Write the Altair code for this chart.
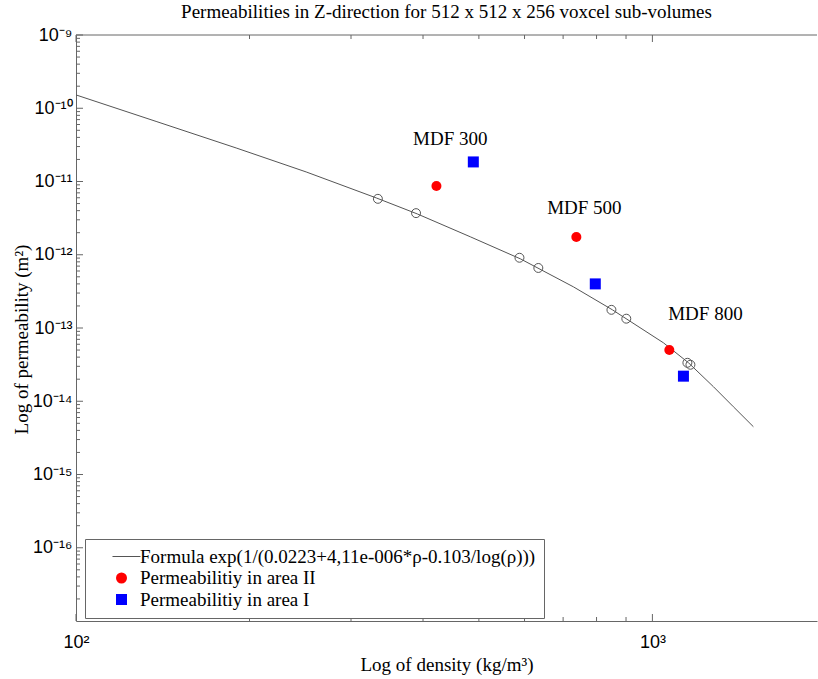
import altair as alt
import pandas as pd

# ---------------- data ----------------
curve_rho = [100, 137.7, 189.6, 250.8, 331.8, 390.9, 483.1, 590.2, 729.2, 852.4, 1045, 1155, 1276, 1382, 1497]
curve_k = [1.52e-10, 6.61e-11, 2.87e-11, 1.35e-11, 5.97e-12, 3.61e-12, 1.76e-12, 8.79e-13,
           3.65e-13, 1.77e-13, 6.28e-14, 3.35e-14, 1.58e-14, 8.41e-15, 4.49e-15]

sample_rho = [334, 389, 588, 634, 849, 901, 1150, 1164]
sample_k = [5.8e-12, 3.7e-12, 9.1e-13, 6.6e-13, 1.77e-13, 1.34e-13, 3.35e-14, 3.15e-14]

area2_rho = [422, 738, 1070]
area2_k = [8.7e-12, 1.75e-12, 5.0e-14]

area1_rho = [489, 796, 1132]
area1_k = [1.85e-11, 4.0e-13, 2.2e-14]

mdf_labels = ["MDF 300", "MDF 500", "MDF 800"]
mdf_rho = [446, 762, 1236]
mdf_k = [3.16e-11, 3.61e-12, 1.29e-13]

series_names = ["Formula exp(1/(0.0223+4,11e-006*\u03c1-0.103/log(\u03c1)))",
                "Permeabilitiy in area II",
                "Permeabilitiy in area I"]

x_major = [100, 1000]
x_major_labels = ["10\u00b2", "10\u00b3"]
x_minor = [200, 300, 400, 500, 600, 700, 800, 900]

y_major_exp = [-9, -10, -11, -12, -13, -14, -15, -16]
y_major_labels = ["10\u207b\u2079", "10\u207b\u00b9\u2070", "10\u207b\u00b9\u00b9", "10\u207b\u00b9\u00b2",
                  "10\u207b\u00b9\u00b3", "10\u207b\u00b9\u2074", "10\u207b\u00b9\u2075", "10\u207b\u00b9\u2076"]
y_major = [1e-9, 1e-10, 1e-11, 1e-12, 1e-13, 1e-14, 1e-15, 1e-16]
y_minor = [m * 10.0 ** e for e in range(-17, -9) for m in range(2, 10)]

# ---------------- layout ----------------
W, H = 741, 586
serif = "Liberation Serif"
sans = "Liberation Sans"
frame = "#666666"

xscale = alt.Scale(type="log", domain=[100, 1930], nice=False)
yscale = alt.Scale(type="log", domain=[1e-17, 1e-9], nice=False)


def expr_from(exps, labels):
    e = "''"
    for ex, lab in zip(reversed(exps), reversed(labels)):
        e = f"round(log(datum.value)/LN10) == {ex} ? '{lab}' : ({e})"
    return e


x_label_expr = expr_from([2, 3], x_major_labels)
y_label_expr = expr_from(y_major_exp, y_major_labels)

curve_df = pd.DataFrame({"rho": curve_rho, "k": curve_k})
sample_df = pd.DataFrame({"rho": sample_rho, "k": sample_k})
area2_df = pd.DataFrame({"rho": area2_rho, "k": area2_k, "series": series_names[1]})
area1_df = pd.DataFrame({"rho": area1_rho, "k": area1_k, "series": series_names[2]})
mdf_df = pd.DataFrame({"rho": mdf_rho, "k": mdf_k, "label": mdf_labels})

# main axes (labels + frame lines on bottom and left), shared by every layer
x_main = alt.Axis(orient="bottom", values=x_major, labelExpr=x_label_expr, ticks=False,
                  domain=True, title="Log of density (kg/m\u00b3)", labelPadding=12,
                  labelFlush=False, labelOverlap=False,
                  titleY=49, titleBaseline="alphabetic", grid=False)
y_main = alt.Axis(orient="left", values=y_major, labelExpr=y_label_expr,
                  ticks=False, domain=True, title="Log of permeability (m\u00b2)", labelPadding=4,
                  labelFlush=False, labelOverlap=False,
                  titleX=-55, titleY=304, titleBaseline="middle", grid=False)

X = lambda f: alt.X(f, scale=xscale, axis=x_main)
Y = lambda f: alt.Y(f, scale=yscale, axis=y_main)

line_path = "M-1.64,-0.09L3.45,-0.09L3.45,0.09L-1.64,0.09Z"
color_scale = alt.Scale(domain=series_names, range=["#555555", "#ff0000", "#0000ff"])
shape_scale = alt.Scale(domain=series_names, range=[line_path, "circle", "square"])
legend = alt.Legend(orient="none", legendX=9, legendY=504, title=None, fillColor="white",
                    strokeColor=frame, padding=8, labelFont=serif, labelFontSize=19,
                    labelColor="black", labelLimit=700, symbolSize=121, symbolOffset=19,
                    labelOffset=9, rowPadding=1.5, symbolStrokeWidth=0)


# inward tick marks (drawn through the same scales)
def x_ticks(values, y0, y1):
    return alt.Chart(pd.DataFrame({"v": values})).mark_rule(color=frame, strokeWidth=1).encode(
        x=X("v:Q"), y=alt.value(y0), y2=alt.value(y1),
    )


def y_ticks(values, x0, x1):
    return alt.Chart(pd.DataFrame({"v": values})).mark_rule(color=frame, strokeWidth=1).encode(
        y=Y("v:Q"), x=alt.value(x0), x2=alt.value(x1),
    )


tick_layers = [
    x_ticks(x_minor, H, H - 4), x_ticks(x_major, H, H - 7),
    x_ticks(x_minor, 0, 4), x_ticks(x_major, 0, 7),
    y_ticks(y_minor, 0, 4), y_ticks(y_major, 0, 7),
]

top_frame = alt.Chart(pd.DataFrame({"v": [0]})).mark_rule(color=frame, strokeWidth=1).encode(
    x=alt.value(0), x2=alt.value(W), y=alt.value(0)
)

line = alt.Chart(curve_df).mark_line(color="#555555", strokeWidth=1).encode(
    x=X("rho:Q"), y=Y("k:Q"),
)

samples = alt.Chart(sample_df).mark_point(shape="circle", filled=False, size=80, stroke="#555555",
                                          strokeWidth=1, opacity=1).encode(
    x=X("rho:Q"), y=Y("k:Q"),
)

area2 = alt.Chart(area2_df).mark_point(filled=True, size=100, opacity=1).encode(
    x=X("rho:Q"), y=Y("k:Q"),
    color=alt.Color("series:N", scale=color_scale, legend=legend),
    shape=alt.Shape("series:N", scale=shape_scale, legend=legend),
)

area1 = alt.Chart(area1_df).mark_point(filled=True, size=121, opacity=1).encode(
    x=X("rho:Q"), y=Y("k:Q"),
    color=alt.Color("series:N", scale=color_scale, legend=legend),
    shape=alt.Shape("series:N", scale=shape_scale, legend=legend),
)

texts = alt.Chart(mdf_df).mark_text(font=serif, fontSize=19, align="center",
                                    baseline="alphabetic", color="black").encode(
    x=X("rho:Q"), y=Y("k:Q"), text="label:N",
)

chart = alt.layer(line, *tick_layers, top_frame, samples, area2, area1, texts).properties(
    width=W, height=H,
    background="white",
    autosize=alt.AutoSizeParams(type="none"),
    padding={"left": 76, "top": 35, "right": 1, "bottom": 58},
    title=alt.TitleParams(
        "Permeabilities in Z-direction for 512 x 512 x 256 voxcel sub-volumes",
        font=serif, fontSize=19, fontWeight="normal", color="black", anchor="middle", offset=4,
    ),
).configure_view(stroke=None).configure_axis(
    labelFont=sans, labelFontSize=18, labelColor="black", tickColor=frame, domainColor=frame,
    titleFont=serif, titleFontSize=19, titleFontWeight="normal", titleColor="black",
)

chart.save("out.html", embed_options={"renderer": "svg", "actions": False})
